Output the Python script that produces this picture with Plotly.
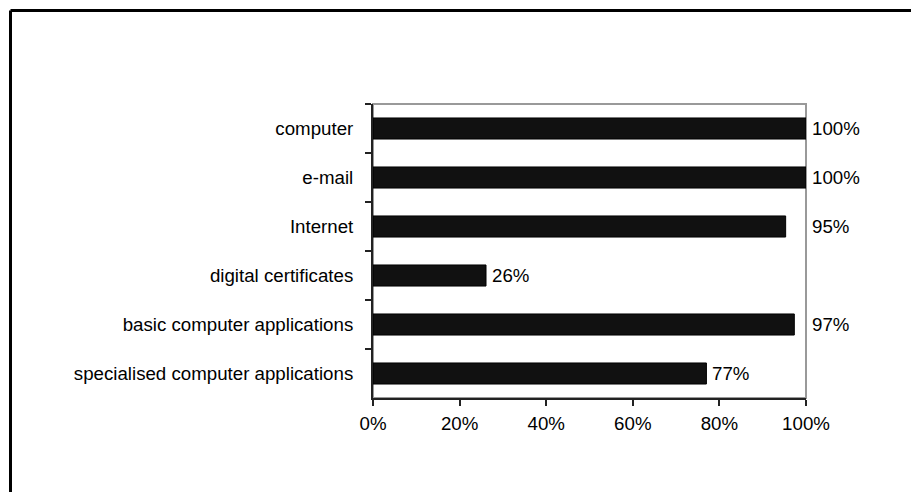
import plotly.graph_objects as go

categories = ["computer", "e-mail", "Internet", "digital certificates",
              "basic computer applications", "specialised computer applications"]
values = [1.00, 1.00, 0.953, 0.261, 0.973, 0.77]
labels = ["100%", "100%", "95%", "26%", "97%", "77%"]
x_ticks = [0, 0.2, 0.4, 0.6, 0.8, 1.0]
x_tick_labels = ["0%", "20%", "40%", "60%", "80%", "100%"]

W, H = 911, 492
L, R, T, B = 373, 105, 104, 94
FONT = dict(family="Liberation Sans, Arial, sans-serif", size=18.7, color="#000")

fig = go.Figure()
fig.add_trace(go.Bar(
    y=categories, x=values, orientation="h",
    marker=dict(color="#111111", line=dict(color="#000000", width=1)),
    width=0.43, hoverinfo="skip",
))

# value labels: outside end, pushed past the plot edge when they would not fit
for c, v, t in zip(categories, values, labels):
    lx = v if v < 0.9 else 1.0
    fig.add_annotation(x=lx, y=c, xref="x", yref="y", text=t, showarrow=False,
                       xanchor="left", yanchor="middle", xshift=4, font=FONT)

pw = W - L - R
ph = H - T - B
# gray plot-area frame
fig.add_shape(type="rect", xref="paper", yref="paper", x0=0, y0=0, x1=1, y1=1,
              line=dict(color="#999999", width=2), layer="below")
# outer chart border (top and left visible)
bx = (10.5 - L) / pw
by = (H - B - 10.5) / ph
fig.add_shape(type="line", xref="paper", yref="paper", x0=bx, x1=(W + 10 - L) / pw,
              y0=by, y1=by, line=dict(color="#000", width=3))
fig.add_shape(type="line", xref="paper", yref="paper", x0=bx, x1=bx,
              y0=by, y1=(-B - 10) / ph, line=dict(color="#000", width=3))

fig.update_layout(
    width=W, height=H, margin=dict(l=L, r=R, t=T, b=B),
    paper_bgcolor="white", plot_bgcolor="white",
    showlegend=False, font=FONT,
    xaxis=dict(range=[0, 1], tickvals=x_ticks, ticktext=x_tick_labels,
               showgrid=False, zeroline=False, showline=True, linecolor="#222",
               linewidth=2, ticks="outside", ticklen=6, tickcolor="#222",
               tickwidth=1.5, ticklabelstandoff=2, fixedrange=True),
    yaxis=dict(autorange="reversed", showgrid=False, zeroline=False, showline=True,
               linecolor="#222", linewidth=2, ticks="outside", ticklen=6,
               tickcolor="#222", tickwidth=1.5, tickson="boundaries",
               ticklabelstandoff=14, fixedrange=True),
)

fig.write_html("out.html")
